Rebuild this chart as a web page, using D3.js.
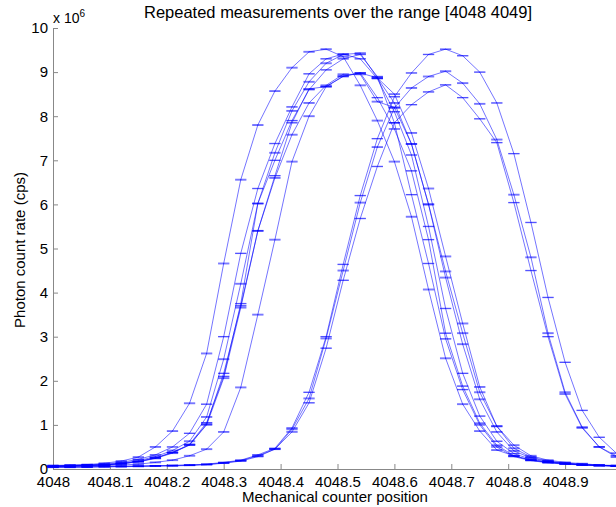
<!DOCTYPE html>
<html>
<head>
<meta charset="utf-8">
<script src="https://cdn.jsdelivr.net/npm/d3@7"></script>
<style>
	body { margin: 0; background: #fff; }
	svg { display: block; font-family: "Liberation Sans", Arial, sans-serif; }
</style>
</head>
<body>
<svg id="chart" width="616" height="507"></svg>
<script>
// mechanical counter positions (step 0.03)
var positions = [4048.00, 4048.03, 4048.06, 4048.09, 4048.12, 4048.15, 4048.18, 4048.21, 4048.24, 4048.27,
	4048.30, 4048.33, 4048.36, 4048.39, 4048.42, 4048.45, 4048.48, 4048.51, 4048.54, 4048.57,
	4048.60, 4048.63, 4048.66, 4048.69, 4048.72, 4048.75, 4048.78, 4048.81, 4048.84, 4048.87,
	4048.90, 4048.93, 4048.96, 4048.99];

// photon count rates, x 10^6 cps, one list per repeated scan
var scan1 = [0.08, 0.09, 0.10, 0.13, 0.18, 0.27, 0.50, 0.86, 1.49, 2.62, 4.66, 6.56, 7.80, 8.57, 9.10, 9.46, 9.52, 9.35, 8.70, 7.90, 6.97, 5.72, 4.07, 2.51, 1.47, 0.86, 0.43, 0.30, 0.20, 0.15, 0.12, 0.10, 0.08, 0.07];
var scan2 = [0.07, 0.08, 0.09, 0.11, 0.15, 0.22, 0.32, 0.50, 0.81, 1.47, 3.00, 4.89, 6.36, 7.38, 8.21, 8.96, 9.30, 9.41, 9.30, 8.85, 8.10, 7.12, 5.50, 3.64, 2.17, 1.20, 0.63, 0.35, 0.22, 0.16, 0.12, 0.10, 0.08, 0.07];
var scan3 = [0.07, 0.08, 0.09, 0.10, 0.13, 0.19, 0.28, 0.42, 0.63, 1.18, 2.49, 4.20, 6.02, 7.17, 8.12, 8.78, 9.20, 9.40, 9.43, 8.87, 8.30, 7.37, 6.00, 4.34, 2.83, 1.58, 0.84, 0.41, 0.25, 0.17, 0.13, 0.10, 0.08, 0.07];
var scan4 = [0.06, 0.07, 0.08, 0.09, 0.12, 0.17, 0.25, 0.38, 0.54, 1.02, 2.17, 3.70, 5.40, 6.65, 7.85, 8.62, 8.67, 8.91, 8.98, 8.42, 7.71, 6.76, 5.20, 3.08, 1.88, 1.04, 0.54, 0.30, 0.20, 0.15, 0.12, 0.09, 0.08, 0.07];
var scan5 = [0.06, 0.07, 0.08, 0.09, 0.12, 0.16, 0.24, 0.36, 0.55, 1.00, 2.06, 3.66, 5.40, 6.60, 7.58, 8.30, 8.70, 8.95, 8.95, 8.33, 8.20, 7.37, 6.00, 4.48, 3.08, 1.74, 0.97, 0.47, 0.27, 0.18, 0.13, 0.10, 0.08, 0.07];
var scan6 = [0.06, 0.07, 0.08, 0.09, 0.12, 0.17, 0.25, 0.37, 0.56, 1.05, 2.10, 3.75, 6.02, 7.00, 7.90, 8.60, 9.05, 9.30, 9.40, 8.90, 7.85, 6.22, 4.66, 2.95, 1.80, 1.00, 0.50, 0.28, 0.19, 0.14, 0.11, 0.09, 0.08, 0.07];
var scan7 = [0.05, 0.06, 0.07, 0.08, 0.09, 0.11, 0.15, 0.20, 0.30, 0.45, 0.84, 1.85, 3.50, 5.20, 6.97, 8.00, 8.67, 8.90, 8.98, 8.87, 8.50, 7.62, 6.36, 4.82, 3.30, 1.86, 0.97, 0.54, 0.30, 0.20, 0.15, 0.12, 0.09, 0.08];
var scan8 = [0.05, 0.05, 0.05, 0.06, 0.06, 0.07, 0.07, 0.08, 0.09, 0.11, 0.15, 0.20, 0.32, 0.47, 0.93, 1.74, 3.00, 4.64, 6.20, 7.49, 8.44, 8.98, 9.40, 9.52, 9.37, 9.00, 8.30, 7.15, 5.59, 3.89, 2.42, 1.33, 0.72, 0.36];
var scan9 = [0.04, 0.04, 0.05, 0.05, 0.06, 0.06, 0.07, 0.08, 0.09, 0.10, 0.14, 0.19, 0.30, 0.45, 0.90, 1.60, 2.96, 4.50, 6.04, 7.30, 8.19, 8.64, 8.90, 9.02, 8.75, 8.28, 7.47, 6.22, 4.80, 3.08, 1.74, 0.95, 0.50, 0.27];
var scan10 = [0.04, 0.04, 0.04, 0.05, 0.05, 0.06, 0.07, 0.07, 0.08, 0.10, 0.13, 0.18, 0.28, 0.45, 0.84, 1.50, 2.74, 4.28, 5.68, 6.86, 7.85, 8.26, 8.55, 8.71, 8.42, 7.94, 7.40, 6.04, 4.50, 3.00, 1.70, 0.93, 0.50, 0.30];

var scans = [scan1, scan2, scan3, scan4, scan5, scan6, scan7, scan8, scan9, scan10];
// half height of each scan's error bars, x 10^6 cps
var scanErrors = [0.01, 0.005, 0.01, 0.005, 0.01, 0.005, 0.01, 0.005, 0.01, 0.005];

var xTicks = [4048, 4048.1, 4048.2, 4048.3, 4048.4, 4048.5, 4048.6, 4048.7, 4048.8, 4048.9];
var xTickLabels = ["4048", "4048.1", "4048.2", "4048.3", "4048.4", "4048.5", "4048.6", "4048.7", "4048.8", "4048.9"];
var yTicks = [0, 1, 2, 3, 4, 5, 6, 7, 8, 9, 10];

var svg = d3.select("#chart");

var x = d3.scaleLinear().domain([4048, 4049]).range([53, 622]);
var y = d3.scaleLinear().domain([0, 10]).range([469, 28]);

var axisColor = "#888";
var lineColor = "#0000ff";
var fontSize = "15px";

// axes, matlab style: ticks pointing in
var xAxis = d3.axisBottom(x)
	.tickValues(xTicks)
	.tickFormat(function(d, i) { return xTickLabels[i]; })
	.tickSizeInner(-5)
	.tickSizeOuter(0)
	.tickPadding(7);

var yAxis = d3.axisLeft(y)
	.tickValues(yTicks)
	.tickFormat(function(d) { return d; })
	.tickSizeInner(-5)
	.tickSizeOuter(0)
	.tickPadding(5);

var gx = svg.append("g").attr("transform", "translate(0,469)").call(xAxis);
var gy = svg.append("g").attr("transform", "translate(53,0)").call(yAxis);

[gx, gy].forEach(function(g) {
	g.select(".domain").attr("stroke", axisColor);
	g.selectAll(".tick line").attr("stroke", axisColor);
	g.selectAll(".tick text")
		.attr("fill", "#000")
		.style("font-size", fontSize)
		.style("font-family", "Liberation Sans, Arial, sans-serif");
});

// scan curves
var line = d3.line()
	.x(function(d, i) { return x(positions[i]); })
	.y(function(d) { return y(d); });

var capHalf = x(4048.0099) - x(4048);

scans.forEach(function(scan, s) {
	var err = scanErrors[s];
	var g = svg.append("g")
		.attr("stroke", lineColor)
		.attr("stroke-width", 0.55)
		.attr("fill", "none");

	g.append("path").attr("d", line(scan));

	var bars = g.selectAll("g.bar")
		.data(scan)
		.enter()
		.append("g")
		.attr("class", "bar");

	bars.append("line")
		.attr("x1", function(d, i) { return x(positions[i]); })
		.attr("x2", function(d, i) { return x(positions[i]); })
		.attr("y1", function(d) { return y(d - err); })
		.attr("y2", function(d) { return y(d + err); });

	[-1, 1].forEach(function(sign) {
		bars.append("line")
			.attr("x1", function(d, i) { return x(positions[i]) - capHalf; })
			.attr("x2", function(d, i) { return x(positions[i]) + capHalf; })
			.attr("y1", function(d) { return y(d + sign * err); })
			.attr("y2", function(d) { return y(d + sign * err); });
	});
});

// titles
svg.append("text")
	.attr("x", 338)
	.attr("y", 18)
	.attr("text-anchor", "middle")
	.style("font-size", "16.5px")
	.text("Repeated measurements over the range [4048 4049]");

svg.append("text")
	.attr("x", 335)
	.attr("y", 502)
	.attr("text-anchor", "middle")
	.style("font-size", fontSize)
	.text("Mechanical counter position");

svg.append("text")
	.attr("transform", "translate(25,250) rotate(-90)")
	.attr("text-anchor", "middle")
	.style("font-size", fontSize)
	.text("Photon count rate (cps)");

var exp = svg.append("text")
	.attr("x", 53)
	.attr("y", 23)
	.style("font-size", "14px");
exp.append("tspan").text("x 10");
exp.append("tspan")
	.attr("dy", -6)
	.style("font-size", "10px")
	.text("6");
</script>
</body>
</html>
